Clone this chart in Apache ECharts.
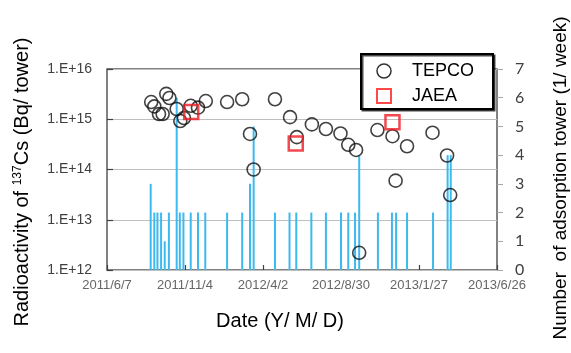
<!DOCTYPE html>
<html><head><meta charset="utf-8">
<script src="https://cdn.jsdelivr.net/npm/echarts@6/dist/echarts.min.js"></script>
<style>html,body{margin:0;padding:0;background:#fff}#c{width:571px;height:353px}</style>
</head><body><div id="c"></div>
<script>
// ---- data ----
const tepcoDates = ['2011/8/31','2011/9/6','2011/9/15','2011/9/22','2011/9/29','2011/10/5','2011/10/19','2011/10/26','2011/11/2','2011/11/15','2011/11/29','2011/12/14','2012/1/24','2012/2/22','2012/3/8','2012/3/15','2012/4/25','2012/5/24','2012/6/6','2012/7/5','2012/8/1','2012/8/29','2012/9/13','2012/9/28','2012/10/4','2012/11/8','2012/12/7','2012/12/13','2013/1/4','2013/2/22','2013/3/22','2013/3/28'];
const tepcoValues = [2.2e15,1.8e15,1.27e15,1.27e15,3.2e15,2.65e15,1.6e15,9.2e14,1.06e15,1.85e15,1.7e15,2.3e15,2.2e15,2.5e15,5.1e14,1.0e14,2.5e15,1.1e15,4.4e14,7.9e14,6.4e14,5.2e14,3.1e14,2.45e14,2.2e12,6.1e14,4.6e14,6.0e13,2.9e14,5.4e14,1.9e14,3.1e13];
const jaeaDates = ['2011/11/16','2012/6/4','2012/12/7'];
const jaeaValues = [1.4e15,3.3e14,8.7e14];
const towerDates = ['2011/8/30','2011/9/6','2011/9/12','2011/9/19','2011/9/26','2011/10/4','2011/10/19','2011/10/25','2011/11/1','2011/11/15','2011/11/29','2011/12/13','2012/1/24','2012/2/22','2012/3/8','2012/3/15','2012/4/25','2012/5/23','2012/6/5','2012/7/4','2012/8/1','2012/8/30','2012/9/13','2012/9/26','2012/10/4','2012/11/9','2012/12/6','2012/12/14','2013/1/4','2013/2/23','2013/3/23','2013/3/29'];
const towerCounts = [3,2,2,2,1,2,6,2,2,2,2,2,2,2,3,5,2,2,2,2,2,2,2,2,4,2,2,2,2,2,4,4];
const xStartDate = '2011/6/7';
const xStepDays = 150;
const xSteps = 5;
const leftExpMin = 12, leftExpMax = 16;
const rightMax = 7;

// ---- helpers ----
function toUTC(s){const p=s.split('/').map(Number);return Date.UTC(p[0],p[1]-1,p[2]);}
const base = toUTC(xStartDate);
function dayOff(s){return Math.round((toUTC(s)-base)/86400000);}
function fmtDay(d){const t=new Date(base+d*86400000);return t.getUTCFullYear()+'/'+(t.getUTCMonth()+1)+'/'+t.getUTCDate();}

const FONT = 'Liberation Sans, Arial, sans-serif';
const chart = echarts.init(document.getElementById('c'), null, {renderer:'canvas'});
chart.setOption({
  animation:false,
  backgroundColor:'#fff',
  grid:{left:107,right:74,top:69,bottom:83,show:true,borderColor:'#595959',borderWidth:1.5,backgroundColor:'transparent'},
  legend:{
    orient:'vertical',left:361,top:54,
    padding:[8,19,4,15],itemGap:7,itemWidth:14,itemHeight:14,
    backgroundColor:'#fff',borderColor:'#000',borderWidth:2,
    shadowColor:'rgba(0,0,0,0.7)',shadowOffsetX:1.5,shadowOffsetY:1.5,shadowBlur:0,
    textStyle:{fontSize:18,color:'#000',fontFamily:FONT,padding:[0,0,0,16]},
    data:[
      {name:'TEPCO',icon:'circle',itemStyle:{color:'transparent',borderColor:'#000',borderWidth:1.5}},
      {name:'JAEA',icon:'rect',itemStyle:{color:'transparent',borderColor:'#ff1a1a',borderWidth:2}}
    ]
  },
  xAxis:{
    type:'value',min:0,max:xStepDays*xSteps,interval:xStepDays,
    axisLine:{show:false},
    axisTick:{show:true,inside:true,length:5,lineStyle:{color:'#404040',width:1.2}},
    splitLine:{show:false},
    axisLabel:{formatter:v=>fmtDay(v),fontSize:13,color:'#666',fontFamily:FONT,margin:9,showMaxLabel:true,showMinLabel:true}
  },
  yAxis:[
    {type:'log',logBase:10,min:Math.pow(10,leftExpMin),max:Math.pow(10,leftExpMax),
     axisLine:{show:false},
     axisTick:{show:true,inside:true,length:6,lineStyle:{color:'#404040',width:1.2}},
     splitLine:{show:true,lineStyle:{color:'#bfbfbf',width:1}},
     axisLabel:{formatter:v=>'1.E+'+Math.round(Math.log10(v)),fontSize:14,color:'#404040',fontFamily:FONT,margin:15}
    },
    {type:'value',min:0,max:rightMax,interval:1,position:'right',
     axisLine:{show:false},
     axisTick:{show:true,inside:false,length:6,lineStyle:{color:'#a6a6a6',width:1}},
     splitLine:{show:false},
     axisLabel:{fontSize:16,color:'#404040',fontFamily:'Lato, sans-serif',margin:18}
    }
  ],
  series:[
    {name:'Towers',type:'bar',yAxisIndex:1,barWidth:2,barGap:'-100%',
     itemStyle:{color:'#3cb9ee'},z:1,
     data:towerDates.map((d,i)=>[dayOff(d),towerCounts[i]])},
    {name:'TEPCO',type:'scatter',symbol:'circle',symbolSize:13,z:3,
     itemStyle:{color:'transparent',borderColor:'#111',borderWidth:1.6},
     data:tepcoDates.map((d,i)=>[dayOff(d),tepcoValues[i]])},
    {name:'JAEA',type:'scatter',symbol:'rect',symbolSize:14,z:4,
     itemStyle:{color:'transparent',borderColor:'#ee1c24',borderWidth:2.5},
     data:jaeaDates.map((d,i)=>[dayOff(d),jaeaValues[i]])}
  ],
  graphic:[
    {type:'text',x:22,y:182,rotation:Math.PI/2,z:10,
     style:{text:'Radioactivity of {sup|137}Cs (Bq/ tower)',fill:'#000',font:'20px '+FONT,align:'center',verticalAlign:'middle',
       rich:{sup:{fontSize:12,fontFamily:FONT,verticalAlign:'top',fill:'#000'}}}},
    {type:'text',x:561,y:178,rotation:Math.PI/2,z:10,
     style:{text:'Number  of adsorption tower (1/ week)',fill:'#000',font:'19px '+FONT,align:'center',verticalAlign:'middle'}},
    {type:'text',x:280,y:321,z:10,
     style:{text:'Date (Y/ M/ D)',fill:'#000',font:'20px '+FONT,align:'center',verticalAlign:'middle'}}
  ]
});
</script></body></html>
